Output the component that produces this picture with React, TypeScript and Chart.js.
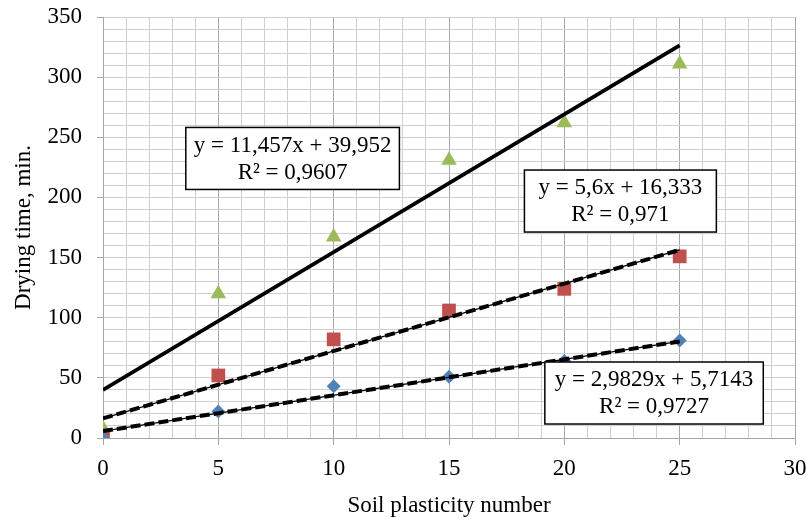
import React, { useEffect, useRef } from "react";
import { Chart, registerables } from "chart.js";

Chart.register(...registerables);

// ---- data ----
const xValues = [0, 5, 10, 15, 20, 25];
const seriesBlue = [0, 22, 43, 51, 64, 81];
const seriesRed = [2, 52, 82, 106, 124, 151];
const seriesGreen = [8, 120, 167, 231, 262, 311];

const trendSlopes = [2.9829, 5.6, 11.457];
const trendIntercepts = [5.7143, 16.333, 39.952];
const trendRange = [0, 25];
const equationLabels = ["y = 2,9829x + 5,7143", "y = 5,6x + 16,333", "y = 11,457x + 39,952"];
const r2Labels = ["R² = 0,9727", "R² = 0,971", "R² = 0,9607"];

const xTitle = "Soil plasticity number";
const yTitle = "Drying time, min.";

// ---- layout / style ----
const FONT = '"Liberation Serif", "Times New Roman", serif';
const FS = 23;
const boxAnchors = [
  { x: 23.89, y: 37.4 },
  { x: 22.43, y: 197.0 },
  { x: 8.22, y: 232.4 },
];
const boxPad = [10, 14, 8];
const BLUE = "#4F81BD";
const RED = "#C0504D";
const GREEN = "#9BBB59";

const pts = (ys: number[]) => xValues.map((x, i) => ({ x, y: ys[i] }));
const trend = (i: number) =>
  trendRange.map((x) => ({ x, y: trendSlopes[i] * x + trendIntercepts[i] }));

const boxPlugin = {
  id: "eqBoxes",
  afterDatasetsDraw(chart: any) {
    const { ctx } = chart;
    const xs = chart.scales.x;
    const ys = chart.scales.y;
    ctx.save();
    ctx.font = `${FS}px ${FONT}`;
    boxAnchors.forEach((a, i) => {
      const cx = xs.getPixelForValue(a.x);
      const cy = ys.getPixelForValue(a.y);
      const tw = Math.max(
        ctx.measureText(equationLabels[i]).width,
        ctx.measureText(r2Labels[i]).width
      );
      const w = tw + 2 * boxPad[i];
      const h = 62;
      ctx.fillStyle = "#ffffff";
      ctx.fillRect(cx - w / 2, cy - h / 2, w, h);
      ctx.strokeStyle = "#000000";
      ctx.lineWidth = 1.5;
      ctx.strokeRect(cx - w / 2, cy - h / 2, w, h);
      ctx.fillStyle = "#000000";
      ctx.textAlign = "center";
      ctx.textBaseline = "middle";
      ctx.fillText(equationLabels[i], cx, cy - 13);
      ctx.fillText(r2Labels[i], cx, cy + 14);
    });
    ctx.restore();
  },
};

export default function App() {
  const ref = useRef<HTMLCanvasElement | null>(null);
  useEffect(() => {
    document.body.style.margin = "0";
    const canvas = ref.current;
    if (!canvas) return;
    const solidThin = (data: any[]) => ({
      type: "scatter",
      data,
      showLine: true,
      borderColor: "#000",
      borderWidth: 1.3,
      pointRadius: 0,
    });
    const dashedThick = (data: any[]) => ({
      type: "scatter",
      data,
      showLine: true,
      borderColor: "#000",
      borderWidth: 4,
      borderDash: [10, 4],
      pointRadius: 0,
    });
    const chart = new Chart(canvas, {
      type: "scatter",
      data: {
        datasets: [
          dashedThick(trend(0)) as any,
          solidThin(trend(0)) as any,
          dashedThick(trend(1)) as any,
          solidThin(trend(1)) as any,
          {
            data: trend(2),
            showLine: true,
            borderColor: "#000",
            borderWidth: 3.8,
            pointRadius: 0,
          },
          {
            data: pts(seriesBlue),
            pointStyle: "rectRot",
            pointRadius: 7,
            backgroundColor: BLUE,
            borderColor: BLUE,
            borderWidth: 0,
          },
          {
            data: pts(seriesRed),
            pointStyle: "rect",
            pointRadius: 9.7,
            backgroundColor: RED,
            borderColor: RED,
            borderWidth: 0,
          },
          {
            data: pts(seriesGreen),
            pointStyle: "triangle",
            pointRadius: 9,
            backgroundColor: GREEN,
            borderColor: GREEN,
            borderWidth: 0,
          },
        ],
      },
      options: {
        responsive: false,
        animation: false,
        layout: { padding: { top: 17, right: 11, left: 0, bottom: 0 } },
        plugins: {
          legend: { display: false },
          tooltip: { enabled: false },
        },
        scales: {
          x: {
            type: "linear",
            min: 0,
            max: 30,
            afterFit: (s: any) => {
              s.height = 82;
              s.paddingLeft = 0;
              s.paddingRight = 0;
            },
            ticks: {
              stepSize: 1,
              autoSkip: false,
              maxRotation: 0,
              padding: 10,
              color: "#000",
              font: { family: FONT, size: FS },
              callback: (v: any) => (Number(v) % 5 === 0 ? String(v) : ""),
            },
            grid: {
              color: (c: any) => (c.tick && c.tick.value % 5 === 0 ? "#A6A6A6" : "#CFCFCF"),
              tickColor: (c: any) => (c.tick && c.tick.value % 5 === 0 ? "#A6A6A6" : "rgba(0,0,0,0)"),
              tickLength: 7,
              lineWidth: 1,
            },
            border: { color: "#A6A6A6", width: 1 },
            title: {
              display: true,
              text: xTitle,
              color: "#000",
              font: { family: FONT, size: FS },
              padding: { top: 0, bottom: 0 },
            },
          },
          y: {
            type: "linear",
            min: 0,
            max: 350,
            afterFit: (s: any) => {
              s.width = 103;
              s.paddingTop = 0;
              s.paddingBottom = 0;
            },
            ticks: {
              stepSize: 10,
              autoSkip: false,
              padding: 15,
              color: "#000",
              font: { family: FONT, size: FS },
              callback: (v: any) => (Number(v) % 50 === 0 ? String(v) : ""),
            },
            grid: {
              color: "#CFCFCF",
              tickColor: (c: any) => (c.tick && c.tick.value % 50 === 0 ? "#A6A6A6" : "rgba(0,0,0,0)"),
              tickLength: 6,
              lineWidth: 1,
            },
            border: { color: "#A6A6A6", width: 1 },
            title: {
              display: true,
              text: yTitle,
              color: "#000",
              font: { family: FONT, size: FS },
              padding: { top: 10, bottom: 0 },
            },
          },
        },
      },
      plugins: [boxPlugin],
    } as any);
    return () => chart.destroy();
  }, []);
  return (
    <div style={{ position: "absolute", left: 0, top: 0, width: 806, height: 520 }}>
      <canvas ref={ref} width={806} height={520} />
    </div>
  );
}
